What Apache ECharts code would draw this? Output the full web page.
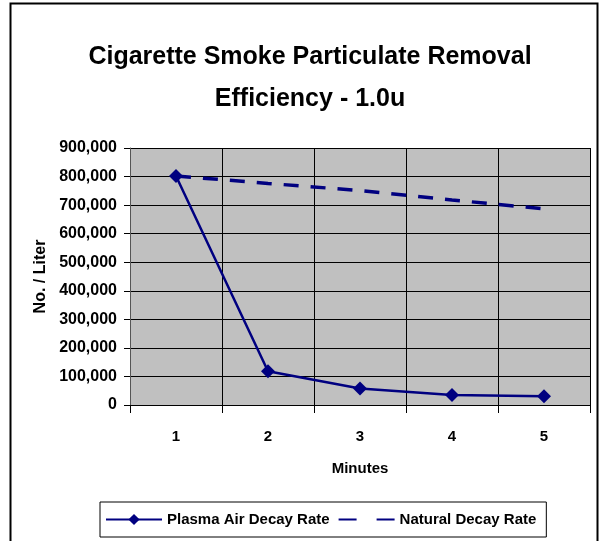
<!DOCTYPE html>
<html>
<head>
<meta charset="utf-8">
<script src="https://cdn.jsdelivr.net/npm/echarts@6/dist/echarts.min.js"></script>
<style>
  html, body { margin: 0; padding: 0; background: #fff; }
  #main { width: 600px; height: 541px; }
</style>
</head>
<body>
<div id="main"></div>
<script>
// 数据
var minutes = ['1', '2', '3', '4', '5'];
var plasmaDecay = [802000, 118000, 58000, 35000, 31000];
var naturalDecay = [802000, 776000, 751000, 718000, 687000];

var myChart = echarts.init(document.getElementById('main'));
var font = 'Liberation Sans, Arial, sans-serif';

var option = {
    animation: false,
    backgroundColor: '#fff',
    title: {
        text: 'Cigarette Smoke Particulate Removal\nEfficiency - 1.0u',
        left: 305,
        textAlign: 'center',
        top: 31,
        textStyle: {
            fontFamily: font,
            fontSize: 25,
            fontWeight: 'bold',
            color: '#000',
            lineHeight: 42
        }
    },
    graphic: [{
        type: 'rect',
        shape: { x: 10.5, y: 3.5, width: 587, height: 560 },
        style: { fill: 'none', stroke: '#000', lineWidth: 2 },
        silent: true
    }],
    legend: {
        left: 100,
        top: 502,
        orient: 'horizontal',
        padding: [10, 10, 10, 5],
        itemGap: 8,
        itemWidth: 56,
        itemHeight: 14,
        borderColor: '#000',
        borderWidth: 1,
        borderRadius: 0,
        backgroundColor: '#fff',
        textStyle: { fontFamily: font, fontSize: 15, fontWeight: 'bold', color: '#000' },
        data: [
            { name: 'Plasma Air Decay Rate' },
            { name: 'Natural Decay Rate', itemStyle: { opacity: 0 }, lineStyle: { type: [18, 20] } }
        ]
    },
    grid: {
        left: 130,
        right: 10,
        top: 148,
        bottom: 136,
        show: true,
        backgroundColor: '#c0c0c0',
        borderWidth: 0
    },
    xAxis: {
        type: 'category',
        data: minutes,
        boundaryGap: true,
        name: 'Minutes',
        nameLocation: 'middle',
        nameGap: 56,
        nameTextStyle: { fontFamily: font, fontSize: 15, fontWeight: 'bold', color: '#000' },
        axisLine: { lineStyle: { color: '#000', width: 1 } },
        axisTick: { show: true, length: 8, alignWithLabel: false, lineStyle: { color: '#000' } },
        axisLabel: { fontFamily: font, fontSize: 15, fontWeight: 'bold', color: '#000', margin: 24 },
        splitLine: { show: true, lineStyle: { color: '#000', width: 1 } }
    },
    yAxis: {
        type: 'value',
        min: 0,
        max: 900000,
        interval: 100000,
        name: 'No. / Liter',
        nameLocation: 'middle',
        nameGap: 80,
        nameRotate: 90,
        nameTextStyle: { fontFamily: font, fontSize: 16, fontWeight: 'bold', color: '#000' },
        axisLine: { show: true, lineStyle: { color: '#555', width: 1 } },
        axisTick: { show: true, length: 6, lineStyle: { color: '#000' } },
        axisLabel: {
            fontFamily: font, fontSize: 16, fontWeight: 'bold', color: '#000', margin: 13,
            formatter: function (v) { return v.toLocaleString('en-US'); }
        },
        splitLine: { show: true, lineStyle: { color: '#000', width: 1 } }
    },
    series: [{
        name: 'Plasma Air Decay Rate',
        type: 'line',
        data: plasmaDecay,
        symbol: 'diamond',
        symbolSize: 14,
        color: '#000080',
        lineStyle: { color: '#000080', width: 2.5 },
        itemStyle: { color: '#000080' },
        z: 3
    }, {
        name: 'Natural Decay Rate',
        type: 'line',
        data: naturalDecay,
        symbol: 'none',
        color: '#000080',
        lineStyle: { color: '#000080', width: 3.5, type: [15, 12] },
        z: 2
    }]
};

myChart.setOption(option);
</script>
</body>
</html>
